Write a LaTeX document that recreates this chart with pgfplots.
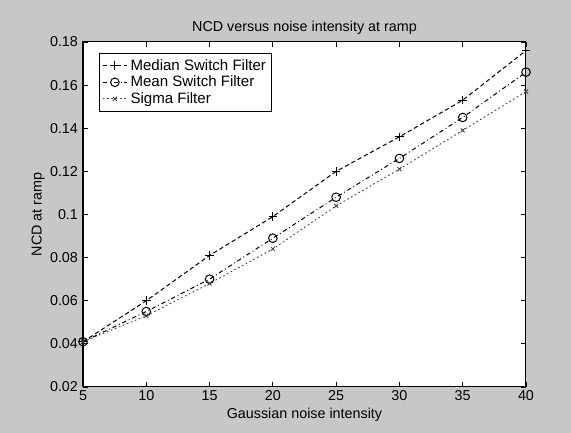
\documentclass[border=0pt]{standalone}
\usepackage{fontspec}
\setmainfont{Liberation Sans}
\usepackage{pgfplots}
\pgfplotsset{compat=1.18}
\definecolor{figbg}{gray}{0.78}

\begin{document}
\begin{tikzpicture}
% figure background (571 x 433 px, 1 px = 0.024518 cm)
\fill[figbg] (-2.035cm,-1.128cm) rectangle (11.965cm,9.488cm);
\begin{axis}[
  at={(0,0)},anchor=south west,
  scale only axis,width=10.861cm,height=8.459cm,
  axis background/.style={fill=white},
  xmin=5,xmax=40,ymin=0.02,ymax=0.18,
  xtick={5,10,...,40},
  ytick={0.02,0.04,...,0.18},
  yticklabels={0.02,0.04,0.06,0.08,0.1,0.12,0.14,0.16,0.18},
  tick align=inside,major tick length=0.12cm,
  tick style={black,line width=0.5pt},
  axis line style={line width=0.7pt},
  font=\fontsize{10}{12}\selectfont,
  tick label style={font=\fontsize{10}{12}\selectfont},
  xticklabel style={yshift=1pt},
  /pgf/number format/assume math mode=true,
  title={NCD versus noise intensity at ramp},
  title style={yshift=-4pt},
  xlabel={Gaussian noise intensity},
  ylabel={NCD at ramp},
  xlabel style={yshift=2pt},
  ylabel style={yshift=-3pt},
  legend style={at={(0.036,0.968)},anchor=north west,
    draw=black,line width=0.5pt,fill=white,
    font=\fontsize{10.5}{12}\selectfont,
    row sep=-1.5pt,inner sep=2pt},
  legend cell align=left,
]
\addplot[black,line width=0.7pt,dash pattern=on 3pt off 2pt,
  mark=+,mark size=3pt,mark options={solid}] coordinates {
  (5,0.041)(10,0.060)(15,0.081)(20,0.099)(25,0.120)
  (30,0.136)(35,0.153)(40,0.176)};
\addplot[black,line width=0.7pt,dash pattern=on 3pt off 2pt on 0.6pt off 2pt,
  mark=o,mark size=3pt,mark options={solid}] coordinates {
  (5,0.041)(10,0.055)(15,0.070)(20,0.089)(25,0.108)
  (30,0.126)(35,0.145)(40,0.166)};
\addplot[black!75,line width=0.6pt,dash pattern=on 1.2pt off 1.8pt,
  mark=x,mark size=2pt,mark options={solid}] coordinates {
  (5,0.041)(10,0.053)(15,0.068)(20,0.084)(25,0.104)
  (30,0.121)(35,0.139)(40,0.157)};
\legend{Median Switch Filter,Mean Switch Filter,Sigma Filter}
\end{axis}
\end{tikzpicture}
\end{document}
